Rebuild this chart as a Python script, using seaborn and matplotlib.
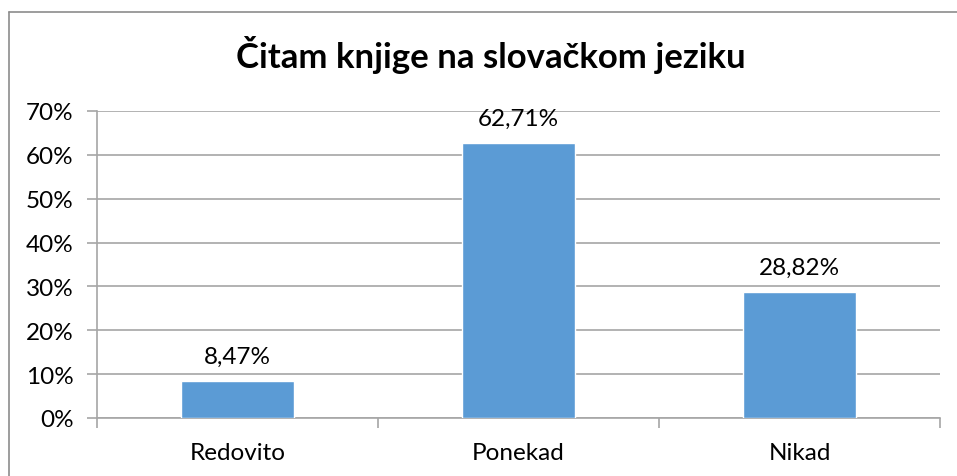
import numpy as np
import pandas as pd
import matplotlib
matplotlib.use("Agg")
import matplotlib.pyplot as plt
import seaborn as sns
from matplotlib.lines import Line2D
from matplotlib.ticker import FuncFormatter

# Data
categories = ["Redovito", "Ponekad", "Nikad"]
values = [0.0847, 0.6271, 0.2882]
value_labels = ["8,47%", "62,71%", "28,82%"]
y_ticks = [0.0, 0.1, 0.2, 0.3, 0.4, 0.5, 0.6, 0.7]

df = pd.DataFrame({"kategorija": categories, "udio": values})

sns.set_style("white")
plt.rcParams["font.family"] = ["Lato", "DejaVu Sans"]

W, H = 957, 477
fig = plt.figure(figsize=(W / 100, H / 100), dpi=100)
fig.patch.set_facecolor("white")

# plot area in pixel coords
left, right, top, bottom = 97, 940, 112, 419
ax = fig.add_axes([left / W, 1 - bottom / H, (right - left) / W, (bottom - top) / H])

grid_col = "#A6A6A6"
bar_col = "#5B9BD5"

sns.barplot(data=df, x="kategorija", y="udio", color=bar_col, width=0.4,
            saturation=1, ax=ax, zorder=3)

ax.set_ylim(0, 0.7)
ax.set_xlim(-0.5, 2.5)
ax.set_yticks(y_ticks)
ax.yaxis.set_major_formatter(FuncFormatter(lambda v, p: f"{v * 100:.0f}%"))
ax.yaxis.grid(True, color=grid_col, linewidth=1.2, zorder=0)
ax.set_axisbelow(True)
ax.set_xlabel("")
ax.set_ylabel("")

for s in ["top", "right"]:
    ax.spines[s].set_visible(False)
for s in ["left", "bottom"]:
    ax.spines[s].set_color(grid_col)
    ax.spines[s].set_linewidth(1.2)

ax.tick_params(axis="y", direction="out", length=7, width=1.2, color=grid_col,
               labelsize=17.5, labelcolor="black", pad=10, left=True)
ax.tick_params(axis="x", which="major", length=0, labelsize=17.5, labelcolor="black", pad=17)
ax.set_xticks([-0.5, 0.5, 1.5, 2.5], minor=True)
ax.tick_params(axis="x", which="minor", direction="out", length=7, width=1.2,
               color=grid_col, bottom=True)

for i, (v, lab) in enumerate(zip(values, value_labels)):
    ax.annotate(lab, (i, v), xytext=(0, 10), textcoords="offset points",
                ha="center", va="bottom", fontsize=17.5, color="black")

fig.text(491 / W, 1 - 55 / H, "Čitam knjige na slovačkom jeziku", ha="center",
         va="center", fontsize=25, fontweight="bold", color="black")

# chart border (cropped on right and bottom)
fig.add_artist(Line2D([9 / W, 1], [1 - 13 / H, 1 - 13 / H], color="#8C8C8C", linewidth=1.2,
                      transform=fig.transFigure))
fig.add_artist(Line2D([9 / W, 9 / W], [0, 1 - 13 / H], color="#8C8C8C", linewidth=1.2,
                      transform=fig.transFigure))

fig.savefig("out.png", dpi=100, facecolor="white")
